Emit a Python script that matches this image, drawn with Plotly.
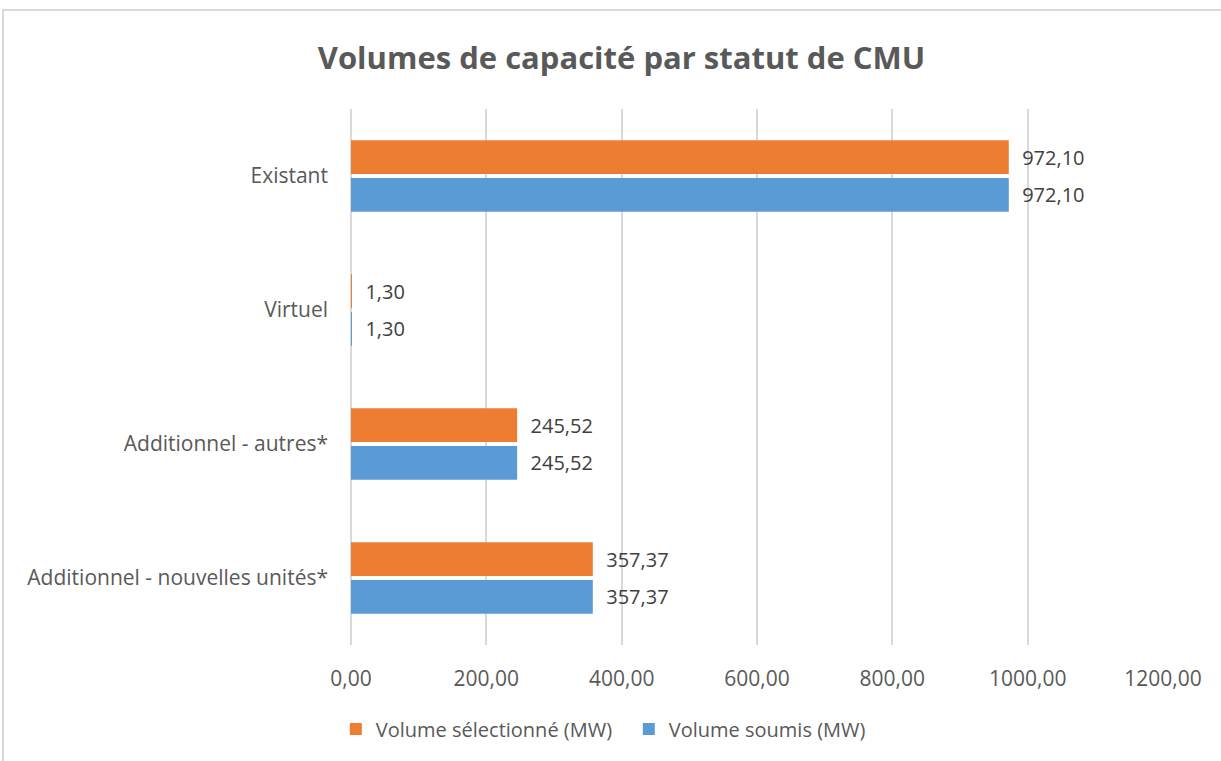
import plotly.graph_objects as go

categories = ["Existant", "Virtuel", "Additionnel - autres*", "Additionnel - nouvelles unités*"]
volume_selectionne = [972.10, 1.30, 245.52, 357.37]
volume_soumis = [972.10, 1.30, 245.52, 357.37]
x_ticks = [0, 200, 400, 600, 800, 1000, 1200]

FONT = "'Open Sans', 'Noto Sans', sans-serif"

fig = go.Figure()

fig.add_trace(go.Bar(
    y=categories,
    x=volume_selectionne,
    orientation="h",
    name="Volume sélectionné (MW)",
    marker=dict(color="#ED7D31", line=dict(width=0)),
    texttemplate="\u00a0\u00a0%{x:.2f}",
    textposition="outside",
    textfont=dict(size=20, color="#404040", family=FONT),
    cliponaxis=False,
))

fig.add_trace(go.Bar(
    y=categories,
    x=volume_soumis,
    orientation="h",
    name="Volume soumis (MW)",
    marker=dict(color="#5B9BD5", line=dict(width=0)),
    texttemplate="\u00a0\u00a0%{x:.2f}",
    textposition="outside",
    textfont=dict(size=20, color="#404040", family=FONT),
    cliponaxis=False,
))

fig.update_layout(
    width=1221,
    height=761,
    template="plotly_white",
    paper_bgcolor="white",
    plot_bgcolor="white",
    separators=",.",
    font=dict(family=FONT, color="#595959", size=20),
    title=dict(
        text="<b>Volumes de capacité par statut de CMU</b>",
        x=0.509, xanchor="center",
        y=1 - 58 / 761, yanchor="middle",
        font=dict(size=31, color="#595959", family=FONT),
    ),
    barmode="group",
    bargap=0.44,
    bargroupgap=0.1,
    margin=dict(l=351, r=58, t=109, b=116, autoexpand=False),
    legend=dict(
        orientation="h",
        x=0.515, xanchor="center", xref="container",
        y=1 - 729 / 761, yanchor="middle", yref="container",
        font=dict(size=20, color="#595959"),
        itemwidth=30,
        entrywidth=248,
    ),
    xaxis=dict(
        range=[0, 1200],
        tickvals=x_ticks,
        tickformat=".2f",
        automargin=False,
        showgrid=True,
        gridcolor="#D9D9D9",
        gridwidth=1.5,
        zeroline=True,
        zerolinecolor="#D9D9D9",
        zerolinewidth=1.5,
        showline=False,
        ticks="",
        ticklabelstandoff=19,
        tickfont=dict(size=21, color="#595959"),
    ),
    yaxis=dict(
        autorange="reversed",
        automargin=False,
        showgrid=False,
        showline=False,
        ticks="",
        ticklabelstandoff=22,
        tickfont=dict(size=21, color="#595959"),
    ),
    shapes=[dict(
        type="rect", xref="paper", yref="paper",
        x0=(3 - 351) / 812, x1=2,
        y0=-1, y1=(645 - 10) / 536,
        line=dict(color="#D9D9D9", width=2),
        fillcolor="rgba(0,0,0,0)",
        layer="below",
    )],
)

# page body has a default 8px margin; remove it so the figure sits at 0,0
fig.write_html(
    "out.html",
    config={"displayModeBar": False},
    post_script="document.body.style.margin='0';",
)
